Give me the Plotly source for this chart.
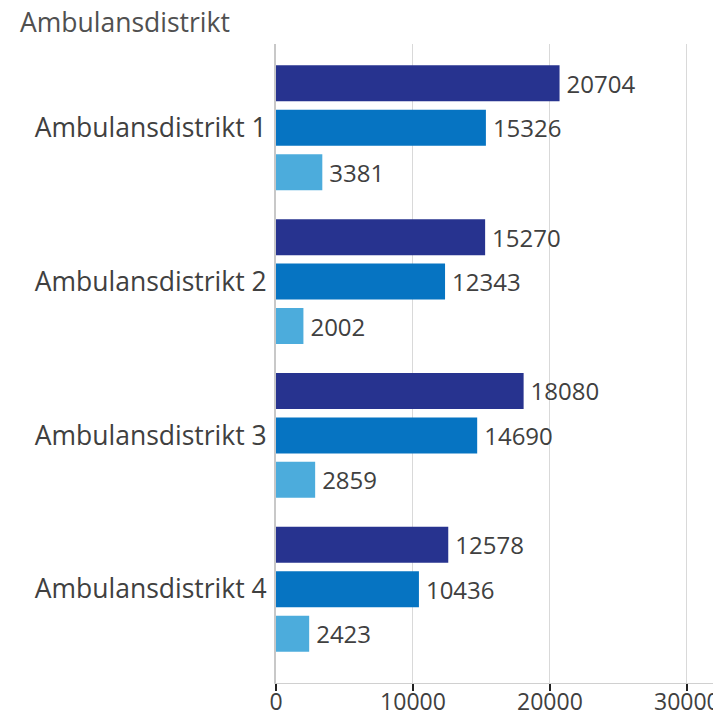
import plotly.graph_objects as go

categories = ["Ambulansdistrikt 1", "Ambulansdistrikt 2", "Ambulansdistrikt 3", "Ambulansdistrikt 4"]
series_names = ["Serie 1", "Serie 2", "Serie 3"]
series_1 = [20704, 15270, 18080, 12578]
series_2 = [15326, 12343, 14690, 10436]
series_3 = [3381, 2002, 2859, 2423]
colors = ["#27338f", "#0674c2", "#4cacdc"]
x_ticks = [0, 10000, 20000, 30000]

FONT = "Open Sans, Noto Sans, DejaVu Sans, sans-serif"
TXT = "#404040"

# page has an 8px body margin, so the figure is placed at (8, 8)
W, H = 713, 707
L, R, T, B = 268, 4, 36, 32
PW, PH = W - L - R, H - T - B

fig = go.Figure()
for name, vals, col in zip(series_names, [series_1, series_2, series_3], colors):
    fig.add_trace(go.Bar(
        y=categories, x=vals, name=name, orientation="h",
        marker=dict(color=col, line=dict(width=0)),
        text=["\u2009" + str(v) for v in vals], textposition="outside",
        textfont=dict(family=FONT, size=24, color=TXT),
        cliponaxis=False,
    ))

fig.update_layout(
    width=W, height=H,
    barmode="group", bargap=0.133, bargroupgap=0.19,
    showlegend=False,
    plot_bgcolor="white", paper_bgcolor="white",
    margin=dict(l=L, r=R, t=T, b=B, autoexpand=False),
    font=dict(family=FONT, size=20, color=TXT),
    xaxis=dict(
        range=[0, 32200], tickvals=x_ticks, ticktext=[str(t) for t in x_ticks],
        showgrid=True, gridcolor="#d9d9d9", gridwidth=1,
        zeroline=False, showline=True, linecolor="#d0d0d0", linewidth=1,
        ticks="outside", ticklen=7, tickcolor="#222222", tickwidth=2,
        tickfont=dict(family=FONT, size=23, color=TXT),
        ticklabelstandoff=-9, automargin=False,
    ),
    yaxis=dict(
        range=[3.61, -0.545],
        showgrid=False, zeroline=False, showline=True, linecolor="#c8c8c8", linewidth=2,
        ticks="", ticklabelstandoff=2, automargin=False,
        tickfont=dict(family=FONT, size=26.5, color=TXT),
    ),
    annotations=[dict(
        text="Ambulansdistrikt", xref="paper", yref="paper",
        x=(10 - L) / PW, y=1 + (T - 14) / PH, xanchor="left", yanchor="middle",
        showarrow=False, font=dict(family=FONT, size=26.5, color="#505050"),
    )],
    shapes=[dict(type="line", xref="paper", yref="paper", x0=1, x1=1, y0=0, y1=1,
                 line=dict(color="#bdbdbd", width=2))],
)

fig.write_html("out.html")
